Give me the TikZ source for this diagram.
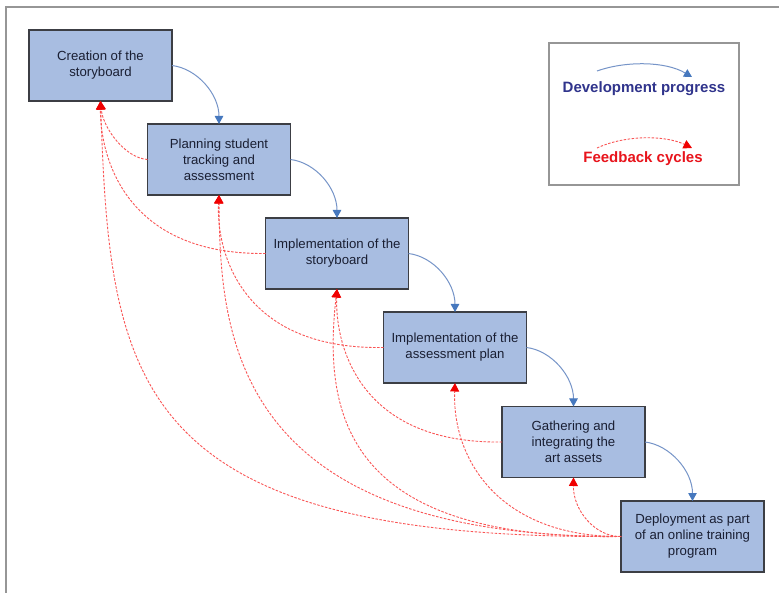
\documentclass[tikz,border=0pt]{standalone}
\usepackage{fontspec}
\setmainfont{Liberation Sans}
\usetikzlibrary{arrows.meta,calc}
\definecolor{boxfill}{RGB}{168,189,225}
\definecolor{boxline}{RGB}{60,62,68}
\definecolor{boxtext}{RGB}{26,31,51}
\definecolor{progline}{RGB}{118,148,200}
\definecolor{progtip}{RGB}{70,120,190}
\definecolor{fbline}{RGB}{250,85,85}
\definecolor{fbtip}{RGB}{240,0,0}
\definecolor{devtext}{RGB}{48,52,140}
\definecolor{fbtext}{RGB}{232,20,28}
\definecolor{framec}{RGB}{150,150,150}
\tikzset{
  stagebox/.style={draw=boxline, line width=1.6pt, fill=boxfill, minimum width=143pt,
    minimum height=71pt, inner sep=2pt, outer sep=0pt, align=center, text=boxtext,
    font=\fontsize{13.2}{16}\selectfont},
  progarrow/.style={draw=progline, line width=1pt,
    -{Triangle[width=8.5pt,length=8pt,fill=progtip,color=progtip]}},
  fbarrow/.style={draw=fbline, line width=0.9pt, dash pattern=on 2.5pt off 1.5pt,
    -{Triangle[width=9pt,length=8.5pt,fill=fbtip,color=fbtip]}},
  legtext/.style={font=\fontsize{15}{18}\selectfont\bfseries, inner sep=0pt}
}
\begin{document}
\begin{tikzpicture}[x=1pt,y=-1pt]
\useasboundingbox (0,0) rectangle (779,593);
\fill[white] (0,0) rectangle (779,593);
\draw[framec, line width=1.2pt] (6,593) -- (6,7) -- (779,7);

% stages
\node[stagebox] (b1) at (100.5,65.5) {Creation of the\\storyboard};
\node[stagebox] (b2) at (219,159.5) {Planning student\\tracking and\\assessment};
\node[stagebox] (b3) at (337,253.5) {Implementation of the\\storyboard};
\node[stagebox] (b4) at (455,347.5) {Implementation of the\\assessment plan};
\node[stagebox] (b5) at (573.5,442) {Gathering and\\integrating the\\art assets};
\node[stagebox] (b6) at (692.5,536.5) {Deployment as part\\of an online training\\program};

% development progress
\foreach \a/\b in {b1/b2,b2/b3,b3/b4,b4/b5,b5/b6}{
  \draw[progarrow] (\a.east) .. controls ($(\a.east)+(25,3)$) and ($(\b.north)+(0,-30)$) .. (\b.north);
}

% feedback cycles
\draw[fbarrow] (b2.west) .. controls (125,158) and (103,128) .. (b1.south);
\draw[fbarrow] (b3.west) .. controls (120,255) and (100,150) .. (b1.south);
\draw[fbarrow] (b6.west) .. controls (130,540) and (110,381) .. (b1.south);
\draw[fbarrow] (b4.west) .. controls (240,350) and (216,250) .. (b2.south);
\draw[fbarrow] (b6.west) .. controls (234,537) and (220,338) .. (b2.south);
\draw[fbarrow] (b5.west) .. controls (358,444) and (335,344) .. (b3.south);
\draw[fbarrow] (b6.west) .. controls (350,540) and (322,420) .. (b3.south);
\draw[fbarrow] (b6.west) .. controls (500,537) and (452,460) .. (b4.south);
\draw[fbarrow] (b6.west) .. controls (595,537) and (573,510) .. (b5.south);

% legend
\node[draw=framec, line width=1.2pt, minimum width=190pt, minimum height=142pt, outer sep=0pt] (legend) at (644,114) {};
\node[legtext, text=devtext] (lt1) at (644,89) {Development progress};
\node[legtext, text=fbtext] (lt2) at (643,159) {Feedback cycles};
\coordinate (la1) at (597,71);
\coordinate (la2) at (692,77);
\coordinate (lr1) at (597,148);
\coordinate (lr2) at (692,148);
\draw[progarrow] (la1) .. controls (625,61) and (665,61) .. (la2);
\draw[fbarrow] (lr1) .. controls (625,135) and (665,135) .. (lr2);
\end{tikzpicture}
\end{document}
